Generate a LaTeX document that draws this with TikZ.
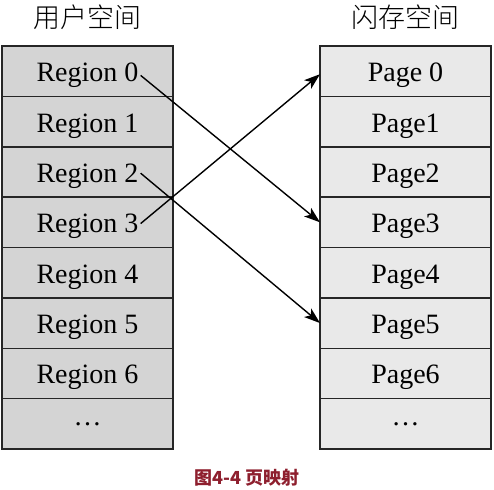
\documentclass[tikz,border=0pt]{standalone}
\usepackage{fontspec}
\setmainfont{Liberation Serif}
\newfontfamily\cjk{Noto Sans CJK SC}
\newfontfamily\cjklight{Noto Sans CJK SC}[UprightFont={* Light}]
\usetikzlibrary{arrows.meta,calc}
\definecolor{leftfill}{HTML}{D4D4D4}
\definecolor{rightfill}{HTML}{E9E9E9}
\definecolor{capred}{HTML}{8E1F2E}
\begin{document}
\begin{tikzpicture}[x=1pt,y=-1pt,
 cellL/.style={draw=black!85,line width=1.5pt,fill=leftfill,minimum width=171pt,minimum height=50.375pt,inner sep=0pt,outer sep=0pt},
 cellR/.style={cellL,fill=rightfill},
 lbl/.style={anchor=base,inner sep=0pt,font=\fontsize{28}{30}\selectfont},
 dotlbl/.style={inner sep=0pt,font=\fontsize{28}{30}\selectfont},
 headtext/.style={font=\cjklight\fontsize{27}{30}\selectfont,inner sep=0pt},
 captext/.style={font=\cjk\bfseries\fontsize{18}{20}\selectfont,text=capred,inner sep=0pt},
 mapline/.style={line width=1.4pt,-{Stealth[length=16pt,width=11pt,inset=4pt]}}]
\useasboundingbox (0,0) rectangle (494,489);
\node[headtext] (hl) at (87,17) {用户空间};
\node[headtext] (hr) at (405.5,17) {闪存空间};
\foreach \i/\t in {0/Region 0,1/Region 1,2/Region 2,3/Region 3,4/Region 4,5/Region 5,6/Region 6}{
  \node[cellL] (L\i) at (87.5,{71.19+50.375*\i}) {};
  \node[lbl] (R\i) at ($(L\i.center)+(0,10.5)$) {\t};
}
\node[cellL] (L7) at (87.5,{71.19+50.375*7}) {};
\node[dotlbl] (R7) at (L7.center) {…};
\foreach \i/\t in {0/Page 0,1/Page1,2/Page2,3/Page3,4/Page4,5/Page5,6/Page6}{
  \node[cellR] (P\i) at (405.5,{71.19+50.375*\i}) {};
  \node[lbl] (Q\i) at ($(P\i.center)+(0,10.5)$) {\t};
}
\node[cellR] (P7) at (405.5,{71.19+50.375*7}) {};
\node[dotlbl] (Q7) at (P7.center) {…};
\draw[mapline] ($(R0.east)+(2,0)$) -- (P3.west);
\draw[mapline] ($(R2.east)+(2,-3)$) -- (P5.west);
\draw[mapline] ($(R3.east)+(2,-3)$) -- ($(P0.west)+(0,3)$);
\node[captext] (caption) at (247,478) {图4-4 页映射};
\end{tikzpicture}
\end{document}
